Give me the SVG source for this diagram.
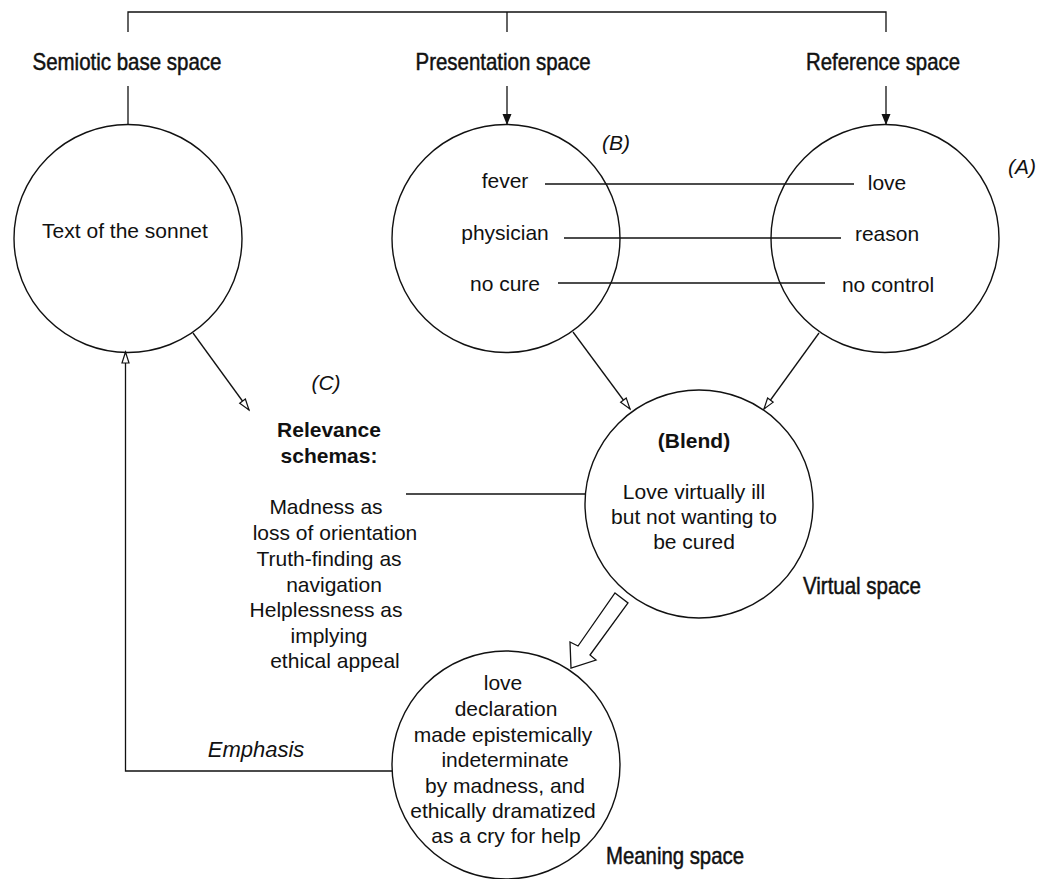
<svg xmlns="http://www.w3.org/2000/svg" width="1038" height="879" viewBox="0 0 1038 879">
<defs>
<style>
.c{fill:none;stroke:#111;stroke-width:1.4}
.l{fill:none;stroke:#111;stroke-width:1.3}
.t{font-family:"Liberation Sans",Arial,sans-serif;font-size:21px;fill:#111;text-anchor:middle}
.b{font-weight:bold}
.i{font-style:italic}
.h{font-family:"Liberation Sans",Arial,sans-serif;font-size:24px;fill:#111;stroke:#111;stroke-width:0.5;text-anchor:middle}
</style>
<marker id="solid" markerUnits="userSpaceOnUse" markerWidth="12" markerHeight="10" refX="11" refY="4.5" orient="auto">
<path d="M0,0 L11,4.5 L0,9 z" fill="#111"/>
</marker>
<marker id="open" markerUnits="userSpaceOnUse" markerWidth="14" markerHeight="10" refX="12" refY="4.5" orient="auto">
<path d="M1,1 L12,4.5 L1,8 z" fill="#fff" stroke="#111" stroke-width="1.2"/>
</marker>
</defs>
<rect width="1038" height="879" fill="#fff"/>
<g id="connectors">
<path class="l" d="M128,32 V12 H886 V32 M507,12 V32"/>
<path class="l" d="M128,86 V125"/>
<path class="l" d="M507,86 V125" marker-end="url(#solid)"/>
<path class="l" d="M886,86 V125" marker-end="url(#solid)"/>
<path class="l" d="M545,184 H854"/>
<path class="l" d="M564,238 H841"/>
<path class="l" d="M558,283 H825"/>
<path class="l" d="M193,333 L249,410" marker-end="url(#open)"/>
<path class="l" d="M573,332 L630,409" marker-end="url(#open)"/>
<path class="l" d="M819,333 L764,409" marker-end="url(#open)"/>
<path class="l" d="M406,494 H585"/>
<path class="l" d="M392,771 H125.5 V352" marker-end="url(#open)"/>
<polygon class="l" points="615,593 628,603 590,655 596,660 571,668 570,642 578,646"/>
</g>
<g id="label-semiotic"><text class="h" x="127" y="70" textLength="189" lengthAdjust="spacingAndGlyphs">Semiotic base space</text></g>
<g id="label-presentation"><text class="h" x="503" y="70" textLength="175" lengthAdjust="spacingAndGlyphs">Presentation space</text></g>
<g id="label-reference"><text class="h" x="883" y="70" textLength="154" lengthAdjust="spacingAndGlyphs">Reference space</text></g>
<g id="semiotic">
<circle class="c" cx="128" cy="238.5" r="114"/>
<text class="t" x="125" y="238">Text of the sonnet</text>
</g>
<g id="presentation">
<circle class="c" cx="506" cy="238.5" r="114"/>
<text class="t" x="505" y="188">fever</text>
<text class="t" x="505" y="240">physician</text>
<text class="t" x="505" y="291">no cure</text>
</g>
<text class="t i" x="616" y="150">(B)</text>
<g id="reference">
<circle class="c" cx="885" cy="238.5" r="114"/>
<text class="t" x="887" y="190">love</text>
<text class="t" x="887" y="241">reason</text>
<text class="t" x="888" y="292">no control</text>
</g>
<text class="t i" x="1022" y="174">(A)</text>
<g id="relevance">
<text class="t i" x="326" y="390">(C)</text>
<text class="t b" x="329" y="437">Relevance</text>
<text class="t b" x="329" y="463">schemas:</text>
<text class="t" x="326" y="514">Madness as</text>
<text class="t" x="335" y="540">loss of orientation</text>
<text class="t" x="329" y="566">Truth-finding as</text>
<text class="t" x="334" y="592">navigation</text>
<text class="t" x="326" y="617">Helplessness as</text>
<text class="t" x="329" y="643">implying</text>
<text class="t" x="335" y="668">ethical appeal</text>
</g>
<g id="blend">
<circle class="c" cx="699" cy="504" r="114"/>
<text class="t b" x="694" y="448">(Blend)</text>
<text class="t" x="694" y="499">Love virtually ill</text>
<text class="t" x="694" y="524">but not wanting to</text>
<text class="t" x="694" y="549">be cured</text>
</g>
<g id="label-virtual"><text class="h" x="862" y="594" textLength="118" lengthAdjust="spacingAndGlyphs">Virtual space</text></g>
<g id="meaning">
<circle class="c" cx="506" cy="765" r="114"/>
<text class="t" x="503" y="690">love</text>
<text class="t" x="506" y="716">declaration</text>
<text class="t" x="503" y="742">made epistemically</text>
<text class="t" x="505" y="767">indeterminate</text>
<text class="t" x="505" y="793">by madness, and</text>
<text class="t" x="503" y="818">ethically dramatized</text>
<text class="t" x="506" y="843">as a cry for help</text>
</g>
<g id="label-meaning"><text class="h" x="675" y="864" textLength="138" lengthAdjust="spacingAndGlyphs">Meaning space</text></g>
<g id="label-emphasis"><text class="t i" x="256" y="757" style="font-size:22px">Emphasis</text></g>
</svg>
